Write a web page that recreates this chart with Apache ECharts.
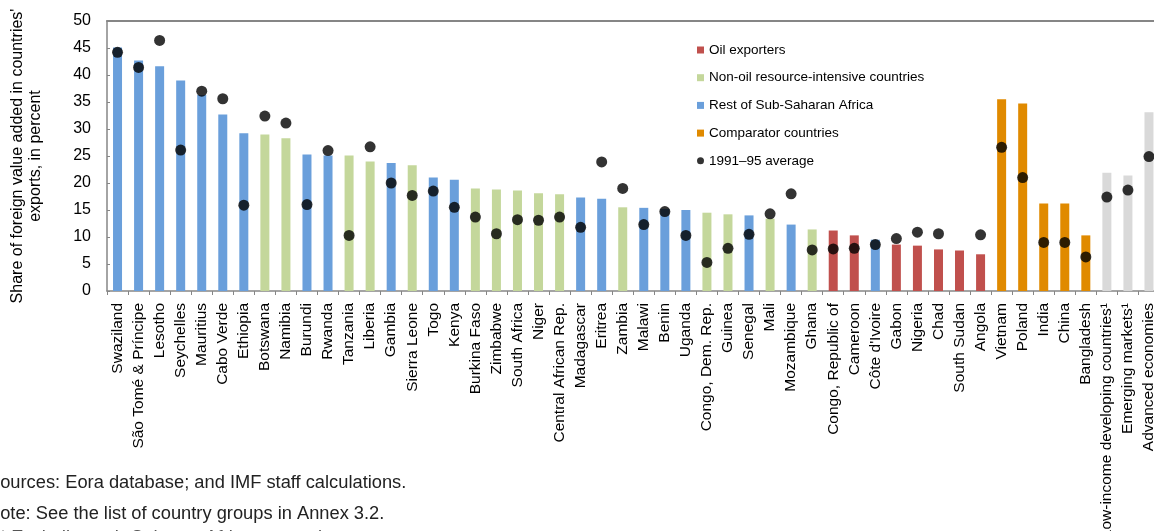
<!DOCTYPE html>
<html>
<head>
<meta charset="utf-8">
<script src="https://cdn.jsdelivr.net/npm/echarts@6/dist/echarts.min.js"></script>
<style>
html,body{margin:0;padding:0;background:#fff;}
#chart{width:1154px;height:531px;}
</style>
</head>
<body>
<div id="chart"></div>
<script>
const categories = ["Swaziland","São Tomé & Príncipe","Lesotho","Seychelles","Mauritius","Cabo Verde","Ethiopia","Botswana","Namibia","Burundi","Rwanda","Tanzania","Liberia","Gambia","Sierra Leone","Togo","Kenya","Burkina Faso","Zimbabwe","South Africa","Niger","Central African Rep.","Madagascar","Eritrea","Zambia","Malawi","Benin","Uganda","Congo, Dem. Rep.","Guinea","Senegal","Mali","Mozambique","Ghana","Congo, Republic of","Cameroon","Côte d'Ivoire","Gabon","Nigeria","Chad","South Sudan","Angola","Vietnam","Poland","India","China","Bangladesh","Low-income developing countries¹","Emerging markets¹","Advanced economies"];

const shareValues = [45.1,42.7,41.6,39.0,36.3,32.7,29.2,29.0,28.3,25.3,25.1,25.1,24.0,23.7,23.3,21.0,20.6,19.0,18.8,18.6,18.1,17.9,17.3,17.1,15.5,15.4,15.2,15.0,14.5,14.2,14.0,13.4,12.3,11.4,11.2,10.3,9.5,8.6,8.4,7.7,7.5,6.8,35.5,34.7,16.2,16.2,10.3,21.9,21.4,33.1];

const avg1991_95 = [44.2,41.4,46.4,26.1,37.0,35.6,15.9,32.4,31.1,16.0,26.0,10.3,26.7,20.0,17.7,18.5,15.5,13.7,10.6,13.2,13.1,13.7,11.8,23.9,19.0,12.3,14.7,10.3,5.3,7.9,10.5,14.3,18.0,7.6,7.8,7.9,8.6,9.7,10.9,10.6,null,10.4,26.6,21.0,9.0,9.0,6.3,17.4,18.7,24.9];

// group codes: O oil exporters, N non-oil resource-intensive, R rest of SSA, C comparator, G reference aggregates
const groups = ["R","R","R","R","R","R","R","N","N","R","R","N","N","R","N","R","R","N","N","N","N","N","R","R","N","R","R","R","N","N","R","N","R","N","O","O","R","O","O","O","O","O","C","C","C","C","C","G","G","G"];

const groupNames = {O:"Oil exporters",N:"Non-oil resource-intensive countries",R:"Rest of Sub-Saharan Africa",C:"Comparator countries",G:"Reference groups"};
const groupColors = {O:"#C0504D",N:"#C4D79B",R:"#6A9FDB",C:"#E08A00",G:"#D9D9D9"};
const avgName = "1991–95 average";

const FONT = "'Liberation Sans', Arial, sans-serif";

const barSeries = ["O","N","R","C","G"].map(g => ({
  name: groupNames[g],
  type: "bar",
  stack: "one",
  barWidth: 9,
  itemStyle: {color: groupColors[g]},
  data: shareValues.map((v,i) => groups[i] === g ? v : "-"),
  z: 2
}));

const chart = echarts.init(document.getElementById("chart"), null, {renderer: "canvas"});
chart.setOption({
  animation: false,
  backgroundColor: "#fff",
  textStyle: {fontFamily: FONT},
  grid: {left: 107, top: 21, width: 1052.5, height: 270, containLabel: false, outerBoundsMode: "none"},
  legend: {
    orient: "vertical",
    left: 697,
    top: 43,
    padding: 0,
    itemWidth: 7,
    itemHeight: 7,
    itemGap: 13.7,
    textStyle: {fontSize: 13.5, color: "#000", fontFamily: FONT},
    data: [
      {name: groupNames.O, icon: "rect"},
      {name: groupNames.N, icon: "rect"},
      {name: groupNames.R, icon: "rect"},
      {name: groupNames.C, icon: "rect"},
      {name: avgName, icon: "circle"}
    ]
  },
  xAxis: [{
    type: "category",
    data: categories,
    position: "bottom",
    axisLine: {show: true, lineStyle: {color: "#868686", width: 1.5}},
    axisTick: {show: true, alignWithLabel: false, length: 4, lineStyle: {color: "#868686"}},
    axisLabel: {interval: 0, rotate: 90, fontSize: 15.5, color: "#000", margin: 12, fontFamily: FONT}
  }, {
    type: "category",
    data: categories,
    position: "top",
    axisLine: {show: true, onZero: false, lineStyle: {color: "#868686", width: 2}},
    axisTick: {show: false},
    axisLabel: {show: false}
  }],
  yAxis: {
    type: "value",
    min: 0,
    max: 50,
    interval: 5,
    name: "Share of foreign value added in countries'\nexports, in percent",
    nameLocation: "middle",
    nameRotate: 90,
    nameGap: 62,
    nameTextStyle: {fontSize: 16, color: "#000", lineHeight: 18, fontFamily: FONT},
    axisLine: {show: true, lineStyle: {color: "#868686", width: 1.5}},
    axisTick: {show: true, inside: true, length: 3, lineStyle: {color: "#868686"}},
    axisLabel: {fontSize: 16, color: "#000", margin: 16, fontFamily: FONT},
    splitLine: {show: false}
  },
  series: barSeries.concat([{
    name: avgName,
    type: "scatter",
    symbol: "circle",
    symbolSize: 11,
    itemStyle: {color: "#000"},
    data: avg1991_95.map(v => v === null ? "-" : v),
    z: 5
  }]),
  graphic: [
    {type: "text", left: -12, top: 474, style: {text: "Sources: Eora database; and IMF staff calculations.", font: "18.3px " + FONT, fill: "#222"}},
    {type: "text", left: -13, top: 505, style: {text: "Note: See the list of country groups in Annex 3.2.", font: "18.3px " + FONT, fill: "#222"}},
    {type: "text", left: 0, top: 529, style: {text: "¹ Excluding sub-Saharan African countries.", font: "18.3px " + FONT, fill: "#555"}}
  ]
});
</script>
</body>
</html>
